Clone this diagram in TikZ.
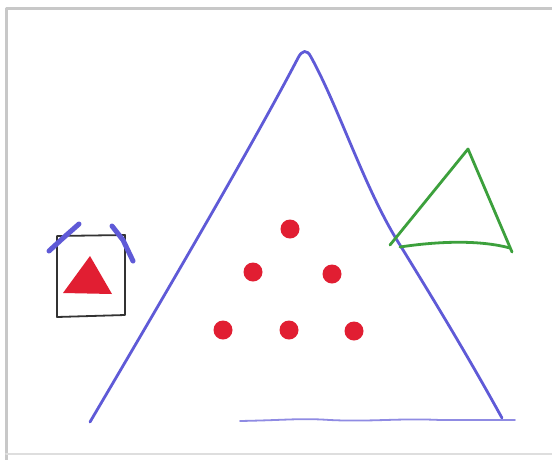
\documentclass[tikz,border=0pt]{standalone}
\begin{document}
\begin{tikzpicture}[x=1pt,y=-1pt,line cap=round,line join=round,
  pen/.style={line width=2.8pt},
  dot/.style={circle,fill=dotred,inner sep=0pt,minimum size=19pt}]
\definecolor{penblue}{RGB}{95,90,215}
\definecolor{pengreen}{RGB}{60,160,60}
\definecolor{dotred}{RGB}{225,30,50}
\definecolor{frame}{RGB}{200,200,200}
\useasboundingbox (0,0) rectangle (552,459);
\fill[white] (0,0) rectangle (552,459);
% frame
\draw[frame,line width=3pt] (6,460) -- (6,8) -- (553,8);
\draw[frame!60,line width=2pt] (6,454) -- (553,454);
% big triangle
\coordinate (apex) at (305,51);
\coordinate (bl) at (90,422);
\coordinate (br) at (502,418);
\draw[penblue,pen] (bl) .. controls (150,320) and (250,150) .. (298,58)
  .. controls (302,50) and (307,49) .. (311,57)
  .. controls (340,110) and (365,190) .. (400,245) .. controls (440,310) and (470,360) .. (br);
\draw[penblue!70,line width=1.8pt] (240,421) .. controls (290,420) and (300,418) .. (330,420)
  .. controls (370,422) and (400,418) .. (440,420) -- (515,420);
% dots
\node[dot] (d1) at (290,229) {};
\node[dot] (d2) at (253,272) {};
\node[dot] (d3) at (332,274) {};
\node[dot] (d4) at (223,330) {};
\node[dot] (d5) at (289,330) {};
\node[dot] (d6) at (354,331) {};
% green triangle
\draw[pengreen,pen] (390,245) -- (468,149) -- (512,252);
\draw[pengreen,pen] (400,247) .. controls (440,241) and (480,240) .. (510,248);
% square with ears
\draw[black!80,line width=1.8pt] (57,236) -- (125,235) -- (125,315) -- (57,317) -- cycle;
\draw[penblue,line width=5pt] (49,251) -- (62,239) -- (79,224);
\draw[penblue,line width=5pt] (112,226) -- (123,240) -- (133,261);
\fill[dotred] (63,293) -- (90,256) -- (112,294) -- cycle;
\end{tikzpicture}
\end{document}
